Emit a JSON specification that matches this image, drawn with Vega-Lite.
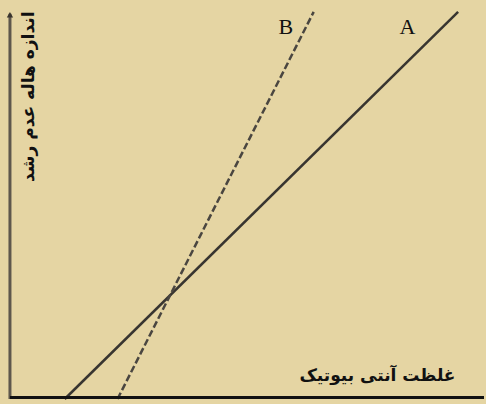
{
  "$schema": "https://vega.github.io/schema/vega-lite/v6.json",
  "autosize": {"type": "fit", "contains": "padding"},
  "width": 486,
  "height": 404,
  "padding": 0,
  "background": "#e5d5a3",
  "config": {"view": {"stroke": null}},
  "datasets": {
    "lines": [
      {"series": "A", "x": 65, "y": 0},
      {"series": "A", "x": 460, "y": 392},
      {"series": "B", "x": 118, "y": 0},
      {"series": "B", "x": 315, "y": 392}
    ],
    "letters": [
      {"label": "A", "x": 409, "y": 377},
      {"label": "B", "x": 287, "y": 377}
    ]
  },
  "encoding": {
    "x": {"type": "quantitative", "scale": {"domain": [0, 486], "nice": false, "zero": false}, "axis": null},
    "y": {"type": "quantitative", "scale": {"domain": [0, 404], "nice": false, "zero": false}, "axis": null}
  },
  "layer": [
    {
      "data": {"name": "lines"},
      "mark": {"type": "line", "color": "#383530", "strokeWidth": 2.5},
      "transform": [{"filter": "datum.series === 'A'"}],
      "encoding": {"x": {"field": "x", "type": "quantitative"}, "y": {"field": "y", "type": "quantitative"}}
    },
    {
      "data": {"name": "lines"},
      "mark": {"type": "line", "color": "#4a4640", "strokeWidth": 2.5, "strokeDash": [7, 3]},
      "transform": [{"filter": "datum.series === 'B'"}],
      "encoding": {"x": {"field": "x", "type": "quantitative"}, "y": {"field": "y", "type": "quantitative"}}
    },
    {
      "data": {"values": [{"x": 10, "y": 0, "y2": 390}]},
      "mark": {"type": "rule", "color": "#5e574c", "strokeWidth": 3},
      "encoding": {"x": {"field": "x", "type": "quantitative"}, "y": {"field": "y", "type": "quantitative"}, "y2": {"field": "y2"}}
    },
    {
      "data": {"values": [{"x": 10, "y": 389}]},
      "mark": {"type": "point", "shape": "triangle-up", "filled": true, "color": "#3a352e", "size": 40, "opacity": 1},
      "encoding": {"x": {"field": "x", "type": "quantitative"}, "y": {"field": "y", "type": "quantitative"}}
    },
    {
      "data": {"values": [{"x": 10, "x2": 486, "y": 1.5}]},
      "mark": {"type": "rule", "color": "#111111", "strokeWidth": 3},
      "encoding": {"x": {"field": "x", "type": "quantitative"}, "x2": {"field": "x2"}, "y": {"field": "y", "type": "quantitative"}}
    },
    {
      "data": {"name": "letters"},
      "mark": {"type": "text", "font": "Liberation Serif", "fontSize": 22, "color": "#111111", "align": "center", "baseline": "middle"},
      "encoding": {"x": {"field": "x", "type": "quantitative"}, "y": {"field": "y", "type": "quantitative"}, "text": {"field": "label"}}
    },
    {
      "data": {"values": [{"x": 29, "y": 306, "label": "اندازه هاله عدم رشد"}]},
      "mark": {"type": "text", "font": "DejaVu Sans", "fontWeight": "bold", "fontSize": 17, "angle": 270, "color": "#111111", "align": "center", "baseline": "middle"},
      "encoding": {"x": {"field": "x", "type": "quantitative"}, "y": {"field": "y", "type": "quantitative"}, "text": {"field": "label"}}
    },
    {
      "data": {"values": [{"x": 379, "y": 23, "label": "غلظت آنتی بیوتیک"}]},
      "mark": {"type": "text", "font": "DejaVu Sans", "fontWeight": "bold", "fontSize": 17, "color": "#111111", "align": "center", "baseline": "middle"},
      "encoding": {"x": {"field": "x", "type": "quantitative"}, "y": {"field": "y", "type": "quantitative"}, "text": {"field": "label"}}
    }
  ]
}
